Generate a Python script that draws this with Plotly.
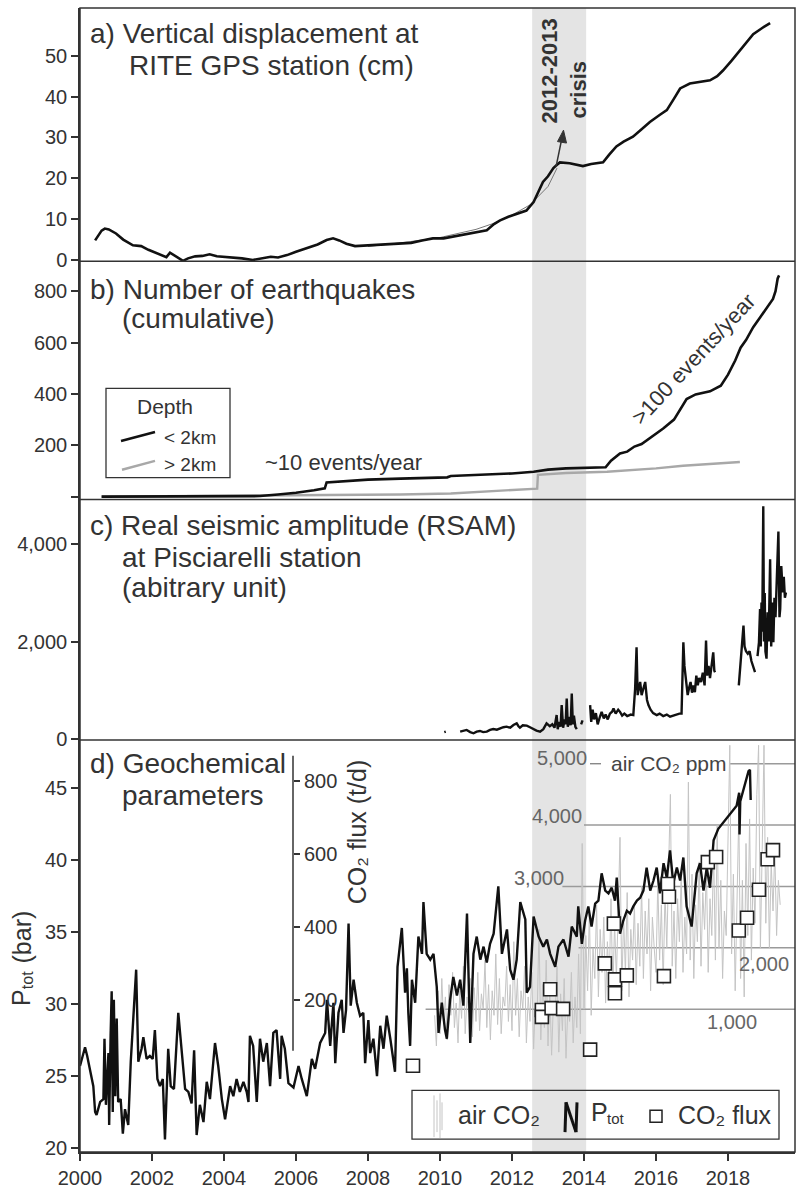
import plotly.graph_objects as go

# ---------------- data ----------------
x_ticks = [2000, 2002, 2004, 2006, 2008, 2010, 2012, 2014, 2016, 2018]
crisis_span = [2012.56, 2014.06]

# a) GPS vertical displacement (cm)
gps_year = [2000.42, 2000.5, 2000.6, 2000.69, 2000.8, 2001.0, 2001.2, 2001.47, 2001.7, 2001.9, 2002.1, 2002.3,
            2002.4, 2002.5, 2002.6, 2002.75, 2002.86, 2003.0, 2003.2, 2003.4, 2003.6, 2003.8, 2004.0, 2004.25,
            2004.5, 2004.8, 2005.0, 2005.3, 2005.5, 2005.75, 2006.0, 2006.3, 2006.6, 2006.85, 2007.03, 2007.2,
            2007.4, 2007.64, 2007.97, 2008.3, 2008.6, 2008.9, 2009.2, 2009.5, 2009.8, 2010.1, 2010.4, 2010.7,
            2011.0, 2011.3, 2011.5, 2011.67, 2011.9, 2012.1, 2012.4, 2012.6, 2012.75, 2012.86, 2013.0, 2013.15,
            2013.25, 2013.33, 2013.6, 2013.97, 2014.2, 2014.53, 2014.7, 2014.9, 2015.1, 2015.36, 2015.6, 2015.83,
            2016.1, 2016.3, 2016.5, 2016.67, 2016.94, 2017.2, 2017.5, 2017.7, 2017.86, 2018.1, 2018.33, 2018.5,
            2018.7, 2018.95, 2019.17]
gps_cm = [4.8, 6.0, 7.2, 7.7, 7.5, 6.5, 5.0, 3.6, 3.4, 2.5, 1.8, 1.0,
          0.7, 1.8, 1.2, 0.3, -0.2, 0.4, 0.9, 1.0, 1.4, 0.9, 0.8, 0.5,
          0.4, 0.0, 0.3, 0.8, 0.6, 1.2, 2.0, 2.9, 3.8, 4.9, 5.3, 4.8,
          4.0, 3.4, 3.6, 3.7, 3.9, 4.1, 4.2, 4.8, 5.3, 5.3, 5.8, 6.2,
          6.7, 7.3, 8.8, 9.7, 10.6, 11.2, 12.1, 14.2, 17.0, 19.1, 20.5, 22.5,
          23.3, 23.9, 23.7, 23.0, 23.5, 23.9, 25.8, 27.8, 29.0, 30.2, 32.0, 33.8,
          35.5, 36.7, 39.5, 42.0, 43.2, 43.5, 44.0, 45.0, 46.4, 48.8, 51.2, 53.0,
          55.3, 56.8, 58.0]
fit_year = [2008.0, 2009.0, 2010.0, 2011.0, 2011.5, 2012.0, 2012.5, 2013.0, 2013.25]
fit_cm = [3.3, 4.3, 5.5, 7.5, 9.0, 11.0, 13.5, 18.0, 22.5]

# b) cumulative number of earthquakes
eq_shallow_year = [2000.6, 2005.0, 2005.5, 2006.0, 2006.5, 2006.8, 2006.85, 2007.5, 2008.0, 2008.9, 2009.5, 2010.2,
                   2010.3, 2011.0, 2011.5, 2012.0, 2012.6, 2013.0, 2013.5, 2014.0, 2014.6, 2014.75, 2015.0, 2015.2,
                   2015.4, 2015.6, 2015.9, 2016.2, 2016.5, 2016.7, 2016.85, 2017.1, 2017.5, 2017.8, 2018.0, 2018.2,
                   2018.35, 2018.5, 2018.7, 2018.9, 2019.1, 2019.25, 2019.32, 2019.38, 2019.42]
eq_shallow_n = [0, 2, 8, 15, 25, 32, 55, 62, 66, 70, 72, 75,
                80, 83, 86, 90, 97, 105, 110, 112, 114, 140, 168, 175,
                195, 205, 235, 265, 300, 345, 380, 398, 410, 432, 475, 530,
                580, 610, 660, 700, 740, 770, 800, 850, 862]
eq_deep_year = [2000.6, 2003.2, 2005.0, 2008.9, 2010.3, 2011.0, 2012.0, 2012.7, 2012.72, 2013.5, 2014.64, 2015.5,
                2016.0, 2016.75, 2017.5, 2018.33]
eq_deep_n = [0, 2, 4, 8, 12, 18, 25, 31, 85, 92, 97, 105,
             110, 120, 127, 135]

# c) RSAM (None = data gap)
rsam_year = [2010.12, 2010.16, None,
             2010.56, 2010.65, 2010.74, 2010.84, 2010.93, 2011.02, 2011.11, 2011.2, 2011.3, 2011.39, 2011.48, 2011.58,
             2011.67, 2011.76, 2011.85, 2011.95, 2012.04, 2012.13, 2012.18, 2012.22, 2012.3, 2012.41, 2012.5, 2012.59,
             2012.68, 2012.78, 2012.87, 2012.96, 2013.05, 2013.12, 2013.18, 2013.24, 2013.27, 2013.31, 2013.35, 2013.38,
             2013.42, 2013.46, 2013.49, 2013.52, 2013.55, 2013.6, 2013.63, 2013.66, 2013.69, 2013.72, 2013.76, 2013.8, None,
             2013.92, 2013.96, None,
             2014.17, 2014.2, 2014.24, 2014.28, 2014.33, 2014.38, 2014.44, 2014.49, 2014.55, 2014.6, 2014.66, 2014.72,
             2014.78, 2014.82, 2014.88, 2014.95, 2015.0, 2015.06, 2015.12, 2015.2, 2015.3, 2015.37, 2015.42, 2015.46,
             2015.49, 2015.51, 2015.56, 2015.6, 2015.65, 2015.7, 2015.75, 2015.79, 2015.85, 2015.92, 2016.02, 2016.1,
             2016.2, 2016.3, 2016.39, 2016.48, 2016.57, 2016.65, 2016.71, 2016.76, 2016.79, 2016.82, 2016.85, 2016.88,
             2016.92, 2016.96, 2017.0, 2017.04, 2017.08, 2017.12, 2017.16, 2017.2, 2017.25, 2017.3, 2017.35, 2017.39,
             2017.42, 2017.46, 2017.5, 2017.55, 2017.59, 2017.62, 2017.64, None,
             2018.3, 2018.35, 2018.4, 2018.43, 2018.46, 2018.5, 2018.55, 2018.6, 2018.65, 2018.7, 2018.75, None,
             2018.82, 2018.86, 2018.89, 2018.91, 2018.93, 2018.95, 2018.98, 2019.0, 2019.02, 2019.04, 2019.07, 2019.1,
             2019.13, 2019.17, 2019.2, 2019.23, 2019.26, 2019.29, 2019.32, 2019.35, 2019.4, 2019.43, 2019.45, 2019.48,
             2019.52, 2019.55, 2019.58, 2019.61]
rsam_val = [140, 150, None,
            150, 175, 184, 140, 116, 150, 163, 140, 150, 185, 204, 190,
            218, 240, 252, 230, 286, 320, 260, 231, 280, 272, 240, 204,
            170, 150, 200, 320, 260, 300, 230, 490, 200, 350, 250, 694,
            230, 400, 300, 830, 250, 450, 280, 930, 300, 480, 250, 200, None,
            300, 380, None,
            694, 350, 600, 400, 530, 300, 450, 556, 420, 500, 400, 520,
            560, 625, 520, 600, 556, 480, 520, 470, 500, 490, 1030, 1885,
            900, 960, 1170, 900, 1030, 1170, 800, 694, 600, 530, 490, 520,
            470, 500, 456, 480, 490, 520, 520, 1985, 1500, 1300, 1170, 900,
            1050, 1170, 950, 1100, 960, 1300, 1100, 1250, 1170, 1360, 1100, 2020,
            1300, 1500, 1250, 1600, 1780, 1400, 1370, None,
            1100, 1600, 2000, 2330, 1900, 1800, 1750, 1800, 1600, 1500, 1370, None,
            1700, 1985, 2670, 1900, 2800, 2200, 4780, 2000, 3000, 1800, 1650, 2600,
            2000, 3690, 1900, 2800, 1985, 2900, 2500, 3300, 4260, 2500, 2670, 3550,
            3010, 3330, 2900, 3010]

# d) total pressure Ptot (bar)
ptot_year = [2000.0, 2000.14, 2000.2, 2000.28, 2000.37, 2000.42, 2000.46, 2000.56, 2000.65, 2000.68, 2000.72, 2000.79,
             2000.81, 2000.85, 2000.88, 2000.91, 2000.94, 2000.98, 2001.02, 2001.06, 2001.13, 2001.19, 2001.25, 2001.34,
             2001.41, 2001.48, 2001.56, 2001.62, 2001.71, 2001.76, 2001.85, 2001.94, 2002.02, 2002.08, 2002.15, 2002.22,
             2002.3, 2002.36, 2002.45, 2002.52, 2002.61, 2002.73, 2002.82, 2002.92, 2003.01, 2003.1, 2003.17, 2003.24,
             2003.33, 2003.43, 2003.52, 2003.61, 2003.75, 2003.84, 2003.94, 2004.03, 2004.17, 2004.26, 2004.35, 2004.44,
             2004.54, 2004.63, 2004.68, 2004.72, 2004.81, 2004.91, 2005.0, 2005.09, 2005.19, 2005.28, 2005.37, 2005.46,
             2005.56, 2005.6, 2005.69, 2005.79, 2005.93, 2006.07, 2006.16, 2006.3, 2006.44, 2006.53, 2006.67, 2006.81,
             2006.86, 2006.95, 2007.04, 2007.09, 2007.18, 2007.27, 2007.32, 2007.39, 2007.46, 2007.52, 2007.6, 2007.69,
             2007.78, 2007.87, 2007.92, 2008.01, 2008.06, 2008.15, 2008.25, 2008.34, 2008.43, 2008.52, 2008.62, 2008.75,
             2008.82, 2008.94, 2009.03, 2009.08, 2009.12, 2009.17, 2009.22, 2009.31, 2009.4, 2009.5, 2009.54, 2009.63,
             2009.73, 2009.82, 2009.91, 2009.96, 2010.05, 2010.14, 2010.19, 2010.28, 2010.37, 2010.47, 2010.56, 2010.65,
             2010.75, 2010.84, 2010.93, 2011.02, 2011.12, 2011.21, 2011.3, 2011.39, 2011.49, 2011.62, 2011.72, 2011.86,
             2011.95, 2012.04, 2012.13, 2012.23, 2012.37, 2012.41, 2012.5, 2012.6, 2012.74, 2012.87, 2012.97, 2013.06,
             2013.2, 2013.29, 2013.43, 2013.57, 2013.66, 2013.8, 2013.84, 2013.94, 2014.03, 2014.12, 2014.21, 2014.31,
             2014.4, 2014.49, 2014.59, 2014.68, 2014.77, 2014.86, 2014.91, 2015.0, 2015.09, 2015.19, 2015.28, 2015.37,
             2015.47, 2015.56, 2015.65, 2015.74, 2015.84, 2015.93, 2016.02, 2016.11, 2016.21, 2016.3, 2016.39, 2016.48,
             2016.58, 2016.67, 2016.76, 2016.85, 2016.99, 2017.09, 2017.13, 2017.22, 2017.32, 2017.41, 2017.5, 2017.6,
             2017.73, 2018.24, 2018.31, 2018.32, 2018.34, 2018.57, 2018.61, 2018.63]
ptot_bar = [25.7, 27.0, 26.4, 25.3, 24.3, 22.5, 22.3, 23.2, 23.4, 27.6, 23.0, 26.6,
            21.6, 27.8, 30.9, 22.5, 30.3, 23.6, 29.0, 23.2, 23.4, 21.0, 22.7, 21.6,
            26.0, 29.0, 32.4, 26.0, 26.9, 27.7, 26.2, 26.4, 26.2, 28.2, 24.8, 24.3,
            24.8, 20.6, 26.9, 24.3, 24.1, 29.4, 26.6, 24.1, 23.9, 23.1, 26.8, 20.9,
            23.0, 21.8, 24.6, 23.4, 27.3, 25.7, 23.4, 22.0, 24.3, 23.6, 24.8, 23.9,
            24.6, 23.9, 23.2, 27.8, 27.1, 23.2, 27.6, 26.0, 27.3, 24.3, 28.0, 28.2,
            24.8, 27.8, 26.9, 24.5, 24.2, 25.7, 24.8, 23.6, 26.2, 25.5, 27.3, 28.0,
            30.3, 27.1, 30.1, 25.9, 29.4, 30.3, 28.0, 29.6, 35.6, 29.9, 31.7, 30.1,
            29.2, 29.4, 25.9, 28.9, 26.6, 27.6, 25.0, 28.5, 26.9, 29.2, 27.6, 25.3,
            32.6, 35.3, 30.8, 32.5, 29.4, 27.1, 31.7, 30.1, 34.7, 33.5, 37.1, 33.5,
            33.1, 33.5, 31.2, 28.0, 30.1, 28.2, 27.6, 30.3, 31.9, 30.6, 31.7, 29.9,
            36.3, 27.3, 33.5, 34.7, 33.1, 34.0, 32.9, 34.2, 34.9, 38.2, 33.5, 35.2,
            32.4, 31.7, 33.1, 37.1, 35.9, 30.8, 31.2, 36.1, 34.7, 34.0, 34.5, 33.5,
            32.6, 34.0, 34.5, 33.3, 35.4, 34.7, 36.8, 34.2, 35.8, 36.8, 35.4, 37.0,
            37.2, 39.1, 37.9, 37.7, 38.1, 37.2, 38.8, 34.9, 35.8, 36.5, 36.3, 36.8,
            37.2, 37.4, 37.9, 39.5, 37.9, 38.6, 39.5, 37.7, 39.8, 38.8, 40.7, 38.4,
            39.5, 38.6, 40.2, 36.8, 35.4, 37.9, 39.1, 39.8, 37.9, 39.5, 38.1, 41.4,
            42.2, 43.8, 44.7, 41.8, 44.1, 46.2, 46.3, 44.2]

# d) soil CO2 flux (t/d)
flux_year = [2009.25, 2012.83, 2012.83, 2013.06, 2013.1, 2013.42, 2014.17, 2014.58, 2014.83, 2014.86, 2014.86,
             2015.19, 2016.22, 2016.33, 2016.36, 2017.44, 2017.67, 2018.3, 2018.53, 2018.86, 2019.1, 2019.25]
flux_td = [19, 172, 153, 229, 177, 175, 63, 300, 409, 256, 218,
           267, 265, 518, 483, 578, 592, 390, 425, 502, 586, 611]

# d) air CO2 (ppm), regular sampling every 0.05 yr from 2009.85
air_start = 2009.85
air_step = 0.05
air_ppm = [900, 400, 1300,
           600, 1500, 800, 1200, 500, 1400, 900, 1600, 700, 1100, 450, 1300, 850, 1700, 600, 1200, 950, 1500, 550, 1350,
           800, 1600, 650, 1250, 1000, 1800, 700, 1400, 500, 1300, 900, 1900, 750, 1500, 600, 1200, 1050, 1700, 800, 1400,
           650, 2100, 900, 1500, 550, 1300, 1000, 1700, 450, 1200, 800, 1600, 350, 1100, 950, 2300, 500, 1400, 700, 1800,
           400, 1300, 250, 1100, 900, 1700, 300, 1250, 650, 1500, 200, 1000, 800, 1600, 450, 1200, 700, 1900, 600, 3700,
           1000, 2200, 1300, 2600, 900, 2000, 1500, 2700, 1200, 2300, 1600, 2500, 1100, 2100, 1400, 2800, 1250, 2400, 1500, 2600,
           3800, 1300, 2500, 1600, 2900, 1200, 2300, 1800, 2700, 1400, 2400, 1700, 3000, 1500, 2600, 1900, 2800, 1300, 2500, 2000,
           1600, 3100, 1800, 2700, 1400, 2900, 2000, 3300, 4500, 1700, 2600, 1500, 2800, 2100, 3200, 1600, 2500, 1900, 4700, 1800,
           3200, 1500, 2700, 2100, 3400, 1700, 2900, 2300, 3300, 1600, 2800, 2200, 3600, 1800, 4000, 2000, 3100, 1500, 2600, 2200,
           3500, 5300, 1900, 3200, 1300, 2800, 4200, 1500, 3100, 1200, 3700, 2200, 4100, 1800, 3300, 2400, 4500, 5300, 2000, 3600,
           5300, 2400, 3800, 2000, 3400, 2600, 3600, 2200, 3100, 2700]
air_year = [round(air_start + i * air_step, 3) for i in range(len(air_ppm))]
air_grid_vals = [1000, 2000, 3000, 4000, 5000]
air_grid_start = [2009.6, 2013.85, 2013.4, 2014.0, 2018.05]

# ---------------- layout geometry ----------------
W, H = 798, 1192
L, R, T, B = 80, 795, 8, 1160           # plot area in pixels
X0, X1 = 2000.0, 2000.0 + (R - L) / 36.0


def pxx(x):
    return (x - L) / (R - L)


def pxy(y):
    return (B - y) / (B - T)


dom_a = [pxy(263), 1.0]
dom_b = [pxy(503), pxy(263)]
dom_c = [pxy(745), pxy(503)]
dom_d = [0.0, pxy(745)]

INK = "#333333"
LINE = "#111111"
FONT = "Liberation Sans, Arial, Helvetica, sans-serif"

fig = go.Figure()

# a) GPS
fig.add_trace(go.Scatter(x=fit_year, y=fit_cm, mode="lines", line=dict(color="#777777", width=1),
                         xaxis="x", yaxis="y", hoverinfo="skip"))
fig.add_trace(go.Scatter(x=gps_year, y=gps_cm, mode="lines", line=dict(color=LINE, width=2.6),
                         xaxis="x", yaxis="y"))
# b) earthquakes
fig.add_trace(go.Scatter(x=eq_deep_year, y=eq_deep_n, mode="lines", line=dict(color="#a8a8a8", width=2.4),
                         xaxis="x2", yaxis="y2"))
fig.add_trace(go.Scatter(x=eq_shallow_year, y=eq_shallow_n, mode="lines", line=dict(color=LINE, width=2.6),
                         xaxis="x2", yaxis="y2"))
# c) RSAM
fig.add_trace(go.Scatter(x=rsam_year, y=rsam_val, mode="lines", line=dict(color=LINE, width=2.4),
                         connectgaps=False, xaxis="x3", yaxis="y3"))
# d) air CO2, Ptot, CO2 flux
fig.add_trace(go.Scatter(x=air_year, y=air_ppm, mode="lines", line=dict(color="#c4c4c4", width=1),
                         xaxis="x4", yaxis="y4"))
fig.add_trace(go.Scatter(x=ptot_year, y=ptot_bar, mode="lines", line=dict(color=LINE, width=2.4),
                         xaxis="x4", yaxis="y5"))
fig.add_trace(go.Scatter(x=flux_year, y=flux_td, mode="markers",
                         marker=dict(symbol="square", size=13, color="white", line=dict(color="#222222", width=1.6)),
                         xaxis="x4", yaxis="y6"))

xcommon = dict(range=[X0, X1], domain=[0, 1], showgrid=False, zeroline=False)
tickfont = dict(family=FONT, size=20, color=INK)
ycommon = dict(showgrid=False, zeroline=False, showline=True, linecolor=INK, linewidth=1.5,
               ticks="outside", ticklen=7, tickwidth=1.5, tickcolor=INK, tickfont=tickfont)

fig.update_layout(
    width=W, height=H,
    margin=dict(l=L, r=W - R, t=T, b=H - B, pad=0),
    paper_bgcolor="white", plot_bgcolor="rgba(0,0,0,0)",
    showlegend=False,
    font=dict(family=FONT, color=INK),
    xaxis=dict(**xcommon, anchor="y", visible=False),
    xaxis2=dict(**xcommon, anchor="y2", visible=False),
    xaxis3=dict(**xcommon, anchor="y3", visible=False),
    xaxis4=dict(**xcommon, anchor="y4", showline=True, linecolor=INK, linewidth=1.5,
                ticks="outside", ticklen=7, tickwidth=1.5, tickcolor=INK,
                tickvals=x_ticks, ticktext=[str(v) for v in x_ticks], tickfont=tickfont),
    yaxis=dict(**ycommon, domain=dom_a, anchor="x", range=[-0.3, 61.7],
               tickvals=[0, 10, 20, 30, 40, 50]),
    yaxis2=dict(**ycommon, domain=dom_b, anchor="x2", range=[-11.6, 917],
                tickvals=[200, 400, 600, 800],
                minor=dict(tickvals=[0], ticks="outside", ticklen=7, tickwidth=1.5, tickcolor=INK)),
    yaxis3=dict(**ycommon, domain=dom_c, anchor="x3", range=[-20, 4918],
                tickvals=[0, 2000, 4000], ticktext=["0", "2,000", "4,000"]),
    yaxis4=dict(domain=dom_d, anchor="x4", range=[-1327, 5388], visible=False),
    yaxis5=dict(**ycommon, overlaying="y4", anchor="x4", side="left", range=[19.72, 48.38],
                tickvals=[20, 25, 30, 35, 40, 45]),
    yaxis6=dict(overlaying="y4", anchor="free", position=pxx(293), side="right",
                range=[-218, 913.6], showgrid=False, zeroline=False, showline=False,
                ticks="outside", ticklen=6, tickwidth=1.5, tickcolor=INK,
                tickvals=[200, 400, 600, 800], tickfont=tickfont),
)

shapes = []
# crisis band
shapes.append(dict(type="rect", xref="x4", yref="paper", x0=crisis_span[0], x1=crisis_span[1], y0=0, y1=1,
                   fillcolor="#e4e4e4", line=dict(width=0), layer="below"))
# air CO2 grid lines
for v, xs in zip(air_grid_vals, air_grid_start):
    shapes.append(dict(type="line", xref="x4", yref="y4", x0=xs, x1=X1, y0=v, y1=v,
                       line=dict(color="#9a9a9a", width=1.4), layer="below"))
# short dash after 5,000 label
shapes.append(dict(type="line", xref="paper", yref="paper", x0=pxx(590), x1=pxx(601), y0=pxy(769), y1=pxy(769),
                   line=dict(color="#888888", width=1.4)))
# CO2 flux axis line
shapes.append(dict(type="line", xref="paper", yref="y6", x0=pxx(293), x1=pxx(293), y0=60, y1=870,
                   line=dict(color=INK, width=1.5)))
# frame and panel separators
shapes.append(dict(type="rect", xref="paper", yref="paper", x0=0, x1=1, y0=0, y1=1,
                   line=dict(color=INK, width=1.5), fillcolor="rgba(0,0,0,0)"))
for yy in [dom_a[0], dom_b[0], dom_c[0]]:
    shapes.append(dict(type="line", xref="paper", yref="paper", x0=0, x1=1, y0=yy, y1=yy,
                       line=dict(color=INK, width=1.5)))
# arrow in panel a (shaft + head)
shapes.append(dict(type="line", xref="paper", yref="paper", x0=pxx(556), x1=pxx(561.5), y0=pxy(168), y1=pxy(141),
                   line=dict(color=INK, width=1.5)))
shapes.append(dict(type="path", xref="paper", yref="paper",
                   path="M %f,%f L %f,%f L %f,%f Z" % (pxx(563.5), pxy(131), pxx(566.5), pxy(144), pxx(557.5), pxy(142.5)),
                   fillcolor=INK, line=dict(color=INK, width=1)))
# legend b
shapes.append(dict(type="rect", xref="paper", yref="paper", x0=pxx(106), x1=pxx(230), y0=pxy(481), y1=pxy(391),
                   line=dict(color=INK, width=1.3), fillcolor="white"))
shapes.append(dict(type="line", xref="paper", yref="paper", x0=pxx(121), x1=pxx(155), y0=pxy(444), y1=pxy(435),
                   line=dict(color=LINE, width=2.6)))
shapes.append(dict(type="line", xref="paper", yref="paper", x0=pxx(122), x1=pxx(155), y0=pxy(473), y1=pxy(464),
                   line=dict(color="#a8a8a8", width=2.4)))
# legend d
shapes.append(dict(type="rect", xref="paper", yref="paper", x0=pxx(412), x1=pxx(779), y0=pxy(1147), y1=pxy(1098),
                   line=dict(color=INK, width=1.3), fillcolor="rgba(0,0,0,0)"))
for gx, gy0, gy1 in [(434, 1103, 1145), (437, 1108, 1140), (440, 1101, 1146), (442, 1110, 1138)]:
    shapes.append(dict(type="line", xref="paper", yref="paper", x0=pxx(gx), x1=pxx(gx), y0=pxy(gy1), y1=pxy(gy0),
                       line=dict(color="#c4c4c4", width=1)))
for (ax0, ay0, ax1, ay1) in [(565, 1140, 566, 1110), (566, 1110, 576, 1140), (576, 1140, 577, 1110)]:
    shapes.append(dict(type="line", xref="paper", yref="paper", x0=pxx(ax0), x1=pxx(ax1), y0=pxy(ay0), y1=pxy(ay1),
                       line=dict(color=LINE, width=3)))
shapes.append(dict(type="rect", xref="paper", yref="paper", x0=pxx(650), x1=pxx(662), y0=pxy(1130), y1=pxy(1118),
                   line=dict(color="#222222", width=1.5), fillcolor="white"))
fig.update_layout(shapes=shapes)

ann = []


def txt(x, y, s, size, xanchor="left", angle=0, color=INK, bold=False):
    ann.append(dict(xref="paper", yref="paper", x=pxx(x), y=pxy(y), text=("<b>%s</b>" % s) if bold else s,
                    showarrow=False, xanchor=xanchor, yanchor="middle", textangle=angle,
                    font=dict(family=FONT, size=size, color=color)))


# panel titles
txt(88, 34, "a) Vertical displacement at", 28)
txt(127, 66, "RITE GPS station (cm)", 28)
txt(88, 291, "b) Number of earthquakes", 28)
txt(120, 321, "(cumulative)", 28)
txt(88, 529, "c) Real seismic amplitude (RSAM)", 28)
txt(120, 561, "at Pisciarelli station", 28)
txt(120, 592, "(abitrary unit)", 28)
txt(88, 769, "d) Geochemical", 28)
txt(120, 801, "parameters", 28)
# crisis label
txt(550, 72, "2012-2013", 22, xanchor="center", angle=-90, bold=True)
txt(578, 90, "crisis", 22, xanchor="center", angle=-90, bold=True)
# panel b texts
txt(165, 409, "Depth", 21, xanchor="center")
txt(162, 440, "&lt; 2km", 19)
txt(162, 468, "&gt; 2km", 19)
txt(263, 466, "~10 events/year", 22)
txt(693, 362, "&gt;100 events/year", 22, xanchor="center", angle=-47)
# panel d axis titles
txt(21, 1005, "P", 25, xanchor="center", angle=-90)
txt(27, 987, "tot", 16, xanchor="center", angle=-90)
txt(21, 944, "(bar)", 25, xanchor="center", angle=-90)
txt(357, 838, "CO₂ flux (t/d)", 25, xanchor="center", angle=-90)
# air CO2 scale
txt(669, 769, "air CO₂ ppm", 21, xanchor="center", color="#444444")
txt(589, 763, "5,000", 20, xanchor="right", color="#666666")
txt(584, 822, "4,000", 20, xanchor="right", color="#666666")
txt(566, 884, "3,000", 20, xanchor="right", color="#666666")
txt(791, 971, "2,000", 20, xanchor="right", color="#666666")
txt(759, 1029, "1,000", 20, xanchor="right", color="#666666")
# legend d texts
txt(499, 1123, "air CO₂", 25, xanchor="center")
txt(589, 1120, "P", 25)
txt(605, 1126, "tot", 15)
txt(676, 1123, "CO₂ flux", 25)
fig.update_layout(annotations=ann)

fig.write_html("out.html")
